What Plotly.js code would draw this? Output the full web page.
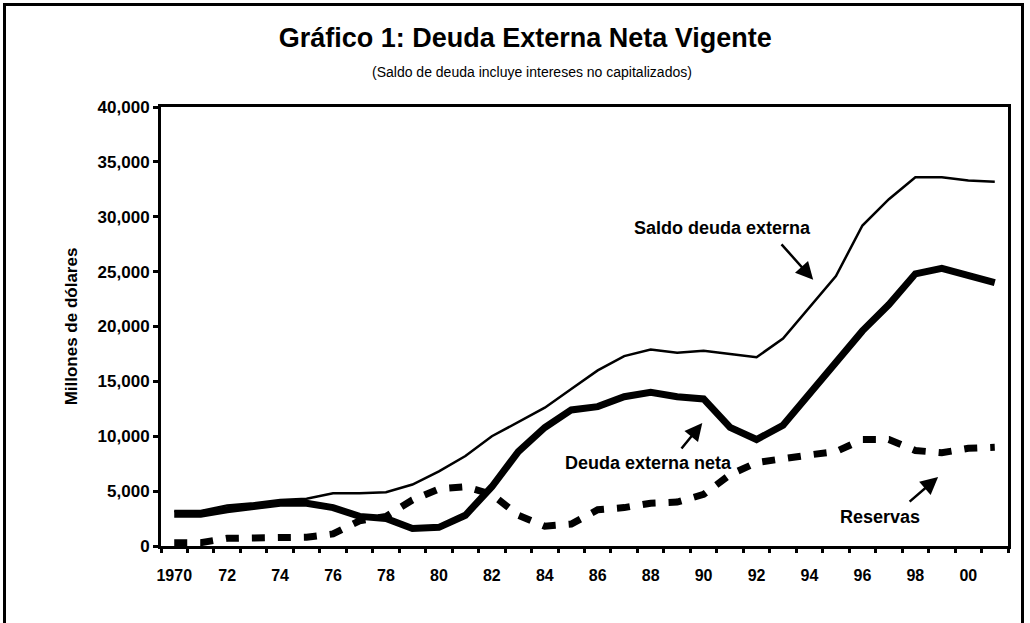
<!DOCTYPE html>
<html>
<head>
<meta charset="utf-8">
<script src="https://cdn.plot.ly/plotly-3.0.1.min.js"></script>
<style>
  html, body { margin: 0; padding: 0; background: #fff; overflow: hidden; }
  #chart { width: 1030px; height: 623px; }
  #frame { position: absolute; left: 3px; top: 3px; width: 1021px; height: 700px;
           border: 3px solid #000; pointer-events: none; box-sizing: border-box; }
</style>
</head>
<body>
<div id="chart"></div>
<div id="frame"></div>
<script>
const years = [1970,1971,1972,1973,1974,1975,1976,1977,1978,1979,1980,1981,1982,1983,1984,1985,
               1986,1987,1988,1989,1990,1991,1992,1993,1994,1995,1996,1997,1998,1999,2000,2001];
const saldoDeudaExterna = [3200,3200,3700,3900,4200,4300,4800,4800,4900,5600,6800,8200,10000,11300,12600,14300,
                           16000,17300,17900,17600,17800,17500,17200,18900,21700,24600,29200,31600,33600,33600,33300,33200];
const deudaExternaNeta  = [2900,2900,3300,3600,3900,3900,3500,2700,2500,1600,1700,2800,5400,8600,10800,12400,
                           12700,13600,14000,13600,13400,10800,9700,11000,13900,16600,19600,22000,24800,25300,24600,24000];
const reservas          = [300,300,700,700,700,800,1100,2300,2700,4200,5200,5400,4700,2800,1800,2000,
                           3300,3500,3900,4000,4700,6500,7600,8000,8300,8600,9700,9700,8700,8500,8900,9000];

const xTickVals = [1970,1972,1974,1976,1978,1980,1982,1984,1986,1988,1990,1992,1994,1996,1998,2000];
const xTickText = ['1970','72','74','76','78','80','82','84','86','88','90','92','94','96','98','00'];
const yTickVals = [0,5000,10000,15000,20000,25000,30000,35000,40000];
const yTickText = ['0','5,000','10,000','15,000','20,000','25,000','30,000','35,000','40,000'];

const FONT = 'Liberation Sans, Arial, sans-serif';
const boundaries = years.map(y => y - 0.5).concat([years[years.length - 1] + 0.5]);
const xRange = [years[0] - 0.5, years[years.length - 1] + 0.5];

const traces = [
  { x: years, y: reservas, type: 'scatter', mode: 'lines', xaxis: 'x', yaxis: 'y',
    line: { color: '#000', width: 7, dash: '13px,13px' }, name: 'Reservas' },
  { x: years, y: deudaExternaNeta, type: 'scatter', mode: 'lines', xaxis: 'x', yaxis: 'y',
    line: { color: '#000', width: 7 }, name: 'Deuda externa neta' },
  { x: years, y: saldoDeudaExterna, type: 'scatter', mode: 'lines', xaxis: 'x2', yaxis: 'y',
    line: { color: '#000', width: 2.5 }, name: 'Saldo deuda externa' }
];

const annFont = { family: FONT, size: 18, color: '#000', weight: 'bold' };
const layout = {
  width: 1030, height: 623,
  margin: { l: 161, r: 22, t: 107, b: 77 },
  paper_bgcolor: '#fff', plot_bgcolor: '#fff',
  showlegend: false,
  title: { text: 'Gráfico 1: Deuda Externa Neta Vigente',
           font: { family: FONT, size: 27, color: '#000', weight: 'bold' },
           x: 0.51, xanchor: 'center', y: 1 - 38 / 623, yanchor: 'middle' },
  xaxis: { range: xRange, tickvals: xTickVals, ticktext: xTickText, ticks: '',
           showline: true, linecolor: '#000', linewidth: 3, mirror: true,
           showgrid: false, zeroline: false, ticklabelstandoff: 13,
           tickfont: { family: FONT, size: 16, color: '#000', weight: 'bold' } },
  xaxis2: { range: xRange, overlaying: 'x', anchor: 'y', side: 'bottom',
            tickvals: boundaries, showticklabels: false, ticks: 'outside',
            ticklen: 6, tickwidth: 3, tickcolor: '#000',
            showline: false, showgrid: false, zeroline: false },
  yaxis: { range: [0, 40000], tickvals: yTickVals, ticktext: yTickText,
           ticks: 'outside', ticklen: 5, tickwidth: 3, tickcolor: '#000',
           showline: true, linecolor: '#000', linewidth: 3, mirror: true,
           showgrid: false, zeroline: false,
           tickfont: { family: FONT, size: 17, color: '#000', weight: 'bold' },
           title: { text: 'Millones de dólares', standoff: 16,
                    font: { family: FONT, size: 17, color: '#000', weight: 'bold' } } },
  annotations: [
    { xref: 'paper', yref: 'paper', x: 0.438, y: 1.08, xanchor: 'center', yanchor: 'middle',
      text: '(Saldo de deuda incluye intereses no capitalizados)', showarrow: false,
      font: { family: FONT, size: 14, color: '#000' } },
    { x: 1990.7, y: 29000, text: 'Saldo deuda externa', showarrow: false, font: annFont },
    { x: 1994.14, y: 24250, text: '', showarrow: true, ax: -33, ay: -37,
      arrowhead: 2, arrowsize: 1.4, arrowwidth: 2.5, arrowcolor: '#000' },
    { x: 1987.9, y: 7570, text: 'Deuda externa neta', showarrow: false, font: annFont },
    { x: 1989.95, y: 11210, text: '', showarrow: true, ax: -22, ay: 27,
      arrowhead: 2, arrowsize: 1.4, arrowwidth: 2.5, arrowcolor: '#000' },
    { x: 1996.67, y: 2640, text: 'Reservas', showarrow: false, font: annFont },
    { x: 1998.86, y: 6290, text: '', showarrow: true, ax: -30, ay: 26,
      arrowhead: 2, arrowsize: 1.4, arrowwidth: 2.5, arrowcolor: '#000' }
  ]
};

Plotly.newPlot('chart', traces, layout, { displayModeBar: false, staticPlot: true });
</script>
</body>
</html>
